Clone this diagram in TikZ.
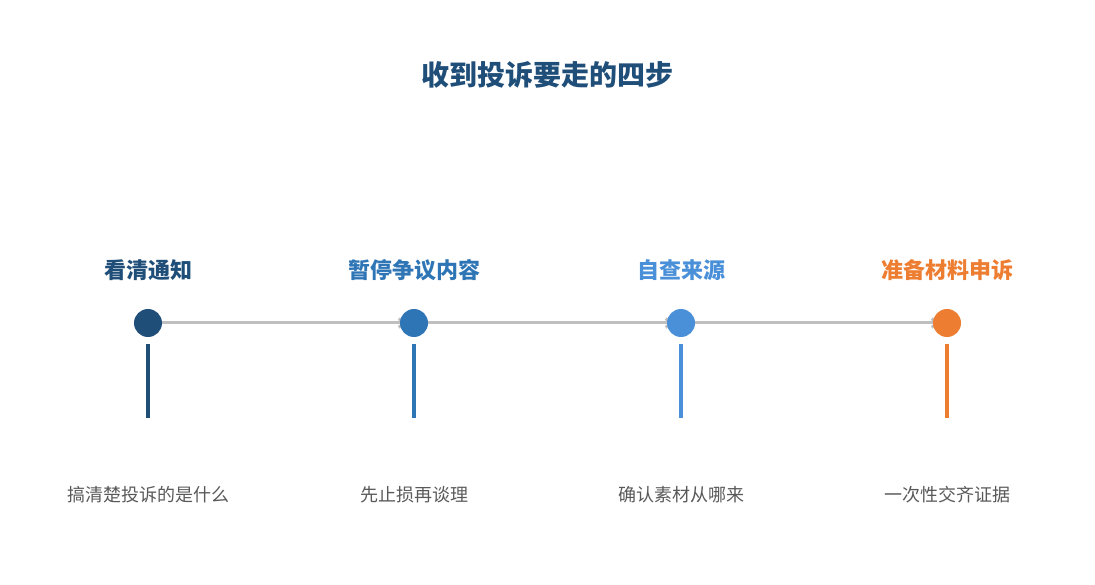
\documentclass[tikz,border=0pt]{standalone}
\usepackage{fontspec}
\setmainfont{Noto Sans CJK SC}
\usetikzlibrary{arrows.meta}
\definecolor{c1}{HTML}{1F4E79}
\definecolor{c2}{HTML}{2E75B6}
\definecolor{c3}{HTML}{4A90D9}
\definecolor{c4}{HTML}{ED7D31}
\definecolor{gl}{HTML}{BFBFBF}
\definecolor{tx}{HTML}{595959}
\begin{document}
\begin{tikzpicture}[x=1pt,y=-1pt,
  dot/.style={circle,fill=#1,minimum size=28pt,inner sep=0pt},
  bar/.style={line width=4pt,draw=#1},
  ttl/.style={text=#1,font=\bfseries\fontsize{22}{24}\selectfont},
  dsc/.style={text=tx,font=\fontsize{18}{20}\selectfont},
  conn/.style={draw=gl,line width=3pt,-{Straight Barb[length=5pt,width=9pt]}}]
\useasboundingbox (0,0) rectangle (1095,585);
\node[text=c1,font=\bfseries\fontsize{28}{30}\selectfont] (title) at (547,75) {收到投诉要走的四步};
\foreach \i/\x/\c/\t/\d in {1/148/c1/看清通知/搞清楚投诉的是什么,2/414/c2/暂停争议内容/先止损再谈理,3/681/c3/自查来源/确认素材从哪来,4/947/c4/准备材料申诉/一次性交齐证据}{
  \coordinate (p\i) at (\x,323);
  \node[ttl=\c] (t\i) at (\x,270) {\t};
  \node[dsc] (d\i) at (\x,495) {\d};
  \coordinate (bt\i) at (\x,344);
  \coordinate (bb\i) at (\x,418);
  \draw[bar=\c] (bt\i) -- (bb\i);
}
\draw[conn] (p1) -- ([xshift=-8pt]p2);
\draw[conn] (p2) -- ([xshift=-8pt]p3);
\draw[conn] (p3) -- ([xshift=-8pt]p4);
\foreach \i/\c in {1/c1,2/c2,3/c3,4/c4}{\node[dot=\c] (n\i) at (p\i) {};}
\end{tikzpicture}
\end{document}
